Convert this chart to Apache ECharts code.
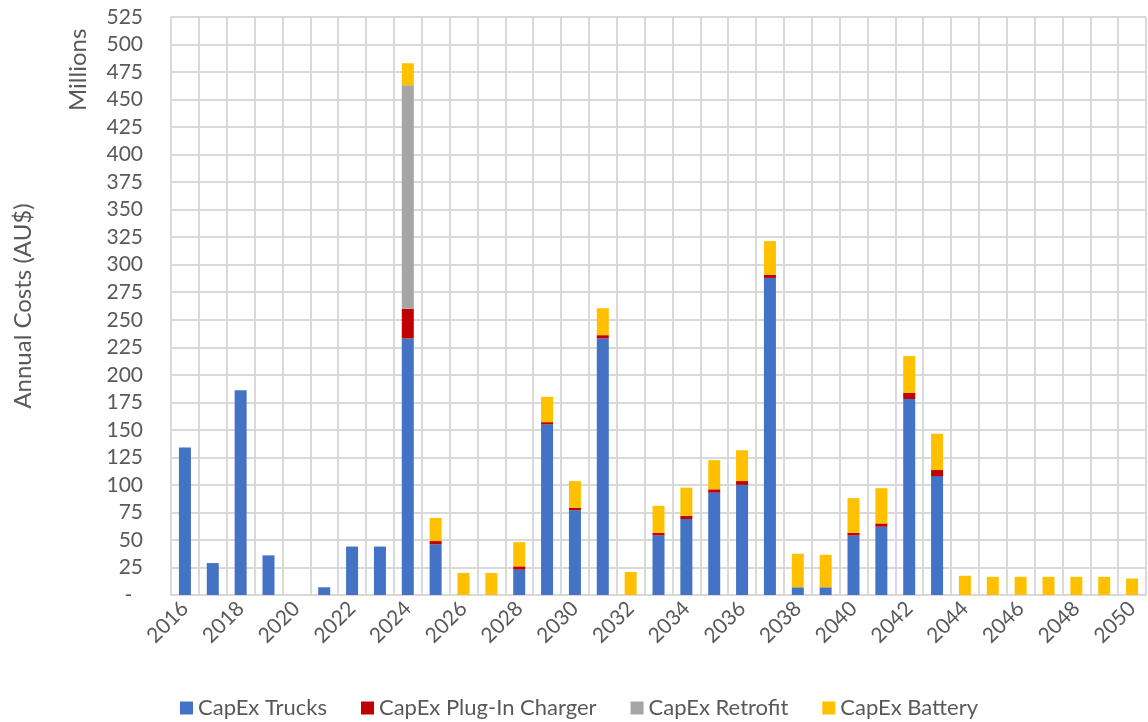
<!DOCTYPE html>
<html>
<head>
<meta charset="utf-8">
<script src="https://cdn.jsdelivr.net/npm/echarts@6/dist/echarts.min.js"></script>
<style>
html,body{margin:0;padding:0;background:#fff;}
#chart{width:1148px;height:722px;}
</style>
</head>
<body>
<div id="chart"></div>
<script>
const years = [];
for (let y = 2016; y <= 2050; y++) years.push(String(y));

const trucks   = [134, 29, 186, 36, 0, 7, 44, 44, 233, 46, 0, 0, 23, 155, 77, 233, 0, 54, 69, 93, 100, 288, 7, 7, 54, 62, 178, 108, 0, 0, 0, 0, 0, 0, 0];
const charger  = [0, 0, 0, 0, 0, 0, 0, 0, 27, 3, 0, 0, 3, 2, 2, 3, 0, 2.5, 3, 3, 3.5, 3, 0, 0, 2.5, 3, 5.5, 5.5, 0, 0, 0, 0, 0, 0, 0];
const retrofit = [0, 0, 0, 0, 0, 0, 0, 0, 203, 0, 0, 0, 0, 0, 0, 0, 0, 0, 0, 0, 0, 0, 0, 0, 0, 0, 0, 0, 0, 0, 0, 0, 0, 0, 0];
const battery  = [0, 0, 0, 0, 0, 0, 0, 0, 20, 21, 20, 20, 22, 23, 24.5, 24.5, 21, 24.5, 25.5, 26.5, 28, 30.5, 30.5, 29.5, 31.5, 32, 33.5, 33, 17.5, 16.5, 16.5, 16.5, 16.5, 16.5, 15];

const seriesNames = ['CapEx Trucks', 'CapEx Plug-In Charger', 'CapEx Retrofit', 'CapEx Battery'];
const seriesColors = ['#4472C4', '#C00000', '#A5A5A5', '#FFC000'];
const seriesData = [trucks, charger, retrofit, battery];

const FONT = 'Lato, "Open Sans", sans-serif';
const chart = echarts.init(document.getElementById('chart'));
chart.setOption({
  animation: false,
  backgroundColor: '#fff',
  grid: { left: 171, right: 2, top: 17, bottom: 127, containLabel: false },
  legend: {
    left: 175, top: 692,
    itemWidth: 13, itemHeight: 13, itemGap: 34, icon: 'rect',
    textStyle: { fontFamily: FONT, fontSize: 22, color: '#595959' },
    data: seriesNames
  },
  xAxis: {
    type: 'category',
    data: years,
    axisLine: { lineStyle: { color: '#D9D9D9', width: 2 } },
    axisTick: { show: false },
    splitLine: { show: true, interval: 0, lineStyle: { color: '#D9D9D9', width: 2 } },
    axisLabel: {
      interval: 1, rotate: 45, fontFamily: FONT, fontSize: 21, color: '#595959', margin: 10
    }
  },
  yAxis: {
    type: 'value',
    min: 0, max: 525, interval: 25,
    name: 'Annual Costs (AU$)',
    nameLocation: 'middle', nameRotate: 90, nameGap: 136,
    nameTextStyle: { fontFamily: FONT, fontSize: 24, color: '#595959' },
    axisLine: { show: false },
    axisTick: { show: false },
    splitLine: { lineStyle: { color: '#D9D9D9', width: 2 } },
    axisLabel: {
      fontFamily: FONT, fontSize: 21, color: '#595959', margin: 28,
      formatter: v => v === 0 ? '-  ' : String(v)
    }
  },
  graphic: [{
    type: 'text', x: 66, y: 111, rotation: Math.PI / 2,
    style: { text: 'Millions', fontFamily: FONT, fontSize: 24, fill: '#595959' }
  }],
  series: seriesNames.map((n, i) => ({
    name: n, type: 'bar', stack: 'total', barWidth: 12,
    itemStyle: { color: seriesColors[i] },
    data: seriesData[i]
  }))
});
</script>
</body>
</html>
